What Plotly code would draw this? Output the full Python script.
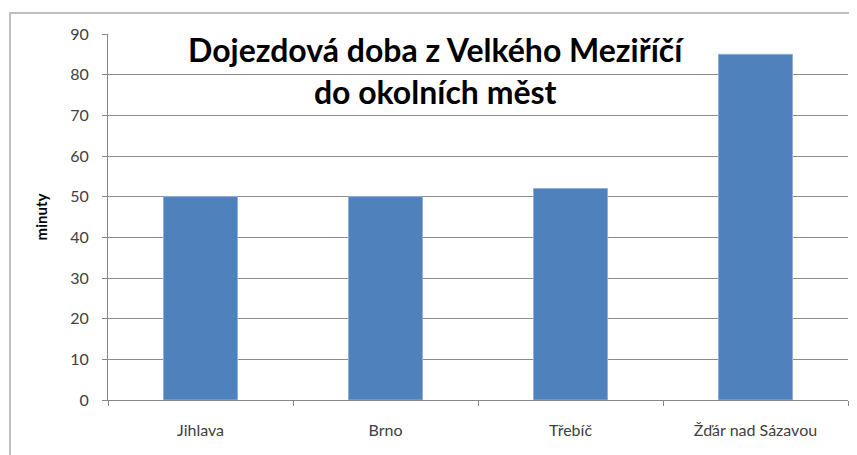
import plotly.graph_objects as go

categories = ["Jihlava", "Brno", "Třebíč", "Žďár nad Sázavou"]
minutes = [50, 50, 52, 85]
y_ticks = [0, 10, 20, 30, 40, 50, 60, 70, 80, 90]
title_text = "Dojezdová doba z Velkého Meziříčí<br>do okolních měst"
y_title = "minuty"

OFF = 8  # page body margin
W, H = 857 - OFF, 455 - OFF
L, R, T, B = 108 - OFF, 9, 34 - OFF, 55
pw, ph = W - L - R, H - T - B

def px_x(x):
    return (x - OFF - L) / pw

def px_y(y):
    return 1 - (y - OFF - T) / ph

fig = go.Figure()
fig.add_trace(go.Bar(
    x=categories, y=minutes, width=0.4,
    marker=dict(color="#4F81BD", line=dict(color="#8EB0DA", width=1)),
))

fig.update_layout(
    width=W, height=H,
    margin=dict(l=L, r=R, t=T, b=B),
    paper_bgcolor="white", plot_bgcolor="white",
    showlegend=False,
    font=dict(family="Lato, Liberation Sans, sans-serif", color="#404040"),
)
fig.update_xaxes(
    type="category", showgrid=False, showline=True, linecolor="#868686", linewidth=1,
    ticks="outside", tickson="boundaries", ticklen=5, tickcolor="#868686",
    tickfont=dict(size=16, color="#404040"), ticklabelstandoff=16,
)
fig.update_yaxes(
    range=[0, 90], tickvals=y_ticks, showgrid=True, gridcolor="#8C8C8C", gridwidth=1,
    showline=True, linecolor="#868686", linewidth=1, ticks="outside", ticklen=5,
    tickcolor="#868686", tickfont=dict(size=16, color="#404040"), ticklabelstandoff=10,
    zeroline=False,
    title=dict(text=y_title, font=dict(size=15, color="#000000", weight="bold"), standoff=18),
)

fig.add_annotation(
    text=title_text, xref="paper", yref="paper",
    x=px_x(436), y=px_y(70), xanchor="center", yanchor="middle",
    showarrow=False, align="center",
    font=dict(family="Lato, sans-serif", size=32, color="#000000", weight="bold"),
)

fig.add_shape(
    type="rect", xref="paper", yref="paper",
    x0=px_x(10), x1=px_x(880), y0=px_y(480), y1=px_y(13),
    line=dict(color="#BFBFBF", width=2), layer="below",
)

fig.write_html("out.html")
